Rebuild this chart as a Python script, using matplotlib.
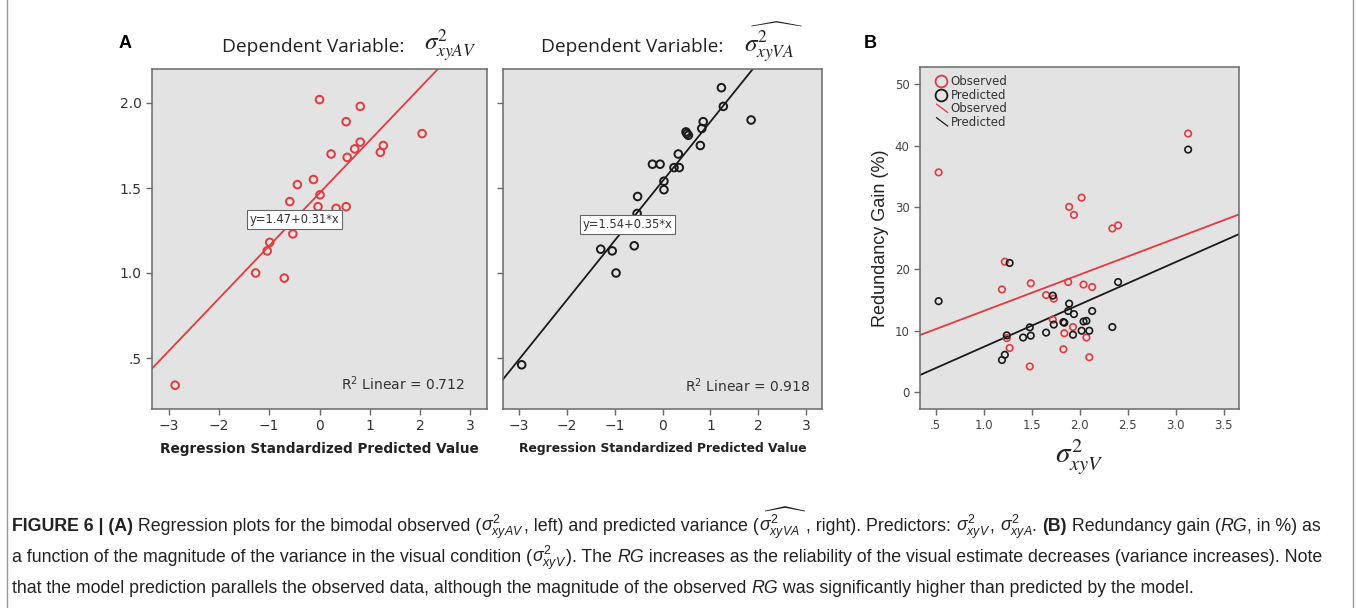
import matplotlib
matplotlib.use("Agg")
import matplotlib.pyplot as plt
from matplotlib.lines import Line2D
from matplotlib.legend_handler import HandlerBase

# ---------------- data ----------------
# Panel A, left: observed bimodal variance vs standardized predicted value
a_obs_x = [-2.87, 0.00, 0.81, 0.53, 2.04, 0.81, 1.27, 0.70, 1.21, 0.23, 0.55, -0.12,
           -0.44, 0.01, -0.59, -0.03, 0.33, 0.53, -0.53, -0.99, -1.04, -1.27, -0.70]
a_obs_y = [0.34, 2.02, 1.98, 1.89, 1.82, 1.77, 1.75, 1.73, 1.71, 1.70, 1.68, 1.55,
           1.52, 1.46, 1.42, 1.39, 1.38, 1.39, 1.23, 1.18, 1.13, 1.00, 0.97]
a_obs_fit = (1.47, 0.31)
a_obs_r2 = 0.712

# Panel A, right: predicted variance
a_pred_x = [-2.94, 1.23, 1.27, 1.85, 0.85, 0.82, 0.49, 0.51, 0.54, 0.79, 0.33, -0.21,
            -0.05, 0.24, 0.35, 0.03, 0.03, -0.52, -0.53, -0.59, -1.29, -1.05, -0.97]
a_pred_y = [0.46, 2.09, 1.98, 1.90, 1.89, 1.85, 1.83, 1.82, 1.81, 1.75, 1.70, 1.64,
            1.64, 1.62, 1.62, 1.54, 1.49, 1.45, 1.35, 1.16, 1.14, 1.13, 1.00]
a_pred_fit = (1.54, 0.35)
a_pred_r2 = 0.918

a_xticks = [-3, -2, -1, 0, 1, 2, 3]
a_yticks = [0.5, 1.0, 1.5, 2.0]
a_ytick_labels = [".5", "1.0", "1.5", "2.0"]

# Panel B: redundancy gain vs visual variance
b_obs_x = [0.53, 3.13, 2.02, 1.89, 1.94, 2.34, 2.40, 1.22, 1.19, 1.49, 1.88, 2.04,
           2.13, 1.65, 1.73, 1.72, 1.84, 1.93, 1.24, 1.27, 1.83, 2.07, 1.48, 2.10]
b_obs_y = [35.7, 42.0, 31.6, 30.1, 28.8, 26.6, 27.1, 21.2, 16.7, 17.7, 17.9, 17.5,
           17.1, 15.8, 15.2, 11.8, 9.6, 10.6, 8.8, 7.2, 7.0, 8.9, 4.2, 5.7]
b_pred_x = [0.53, 3.13, 1.27, 2.40, 1.72, 1.89, 1.88, 2.13, 1.94, 2.04, 2.07, 1.83,
            1.84, 1.73, 1.48, 2.34, 2.02, 2.10, 1.65, 1.24, 1.49, 1.41, 1.93, 1.22, 1.19]
b_pred_y = [14.8, 39.4, 21.0, 17.9, 15.7, 14.4, 13.2, 13.2, 12.7, 11.5, 11.6, 11.4,
            11.3, 11.0, 10.55, 10.6, 10.0, 10.0, 9.7, 9.25, 9.2, 8.9, 9.35, 6.1, 5.25]
b_obs_fit = (7.32, 5.89)
b_pred_fit = (0.50, 6.88)
b_xticks = [0.5, 1.0, 1.5, 2.0, 2.5, 3.0, 3.5]
b_xtick_labels = [".5", "1.0", "1.5", "2.0", "2.5", "3.0", "3.5"]
b_yticks = [0, 10, 20, 30, 40, 50]

# ---------------- style ----------------
W, H = 1357, 608
RED = "#e23a3f"
BLK = "#1a1a1a"
BG = "#e3e3e3"
FRAME = "#6a6a6a"

plt.rcParams["font.family"] = ["DejaVu Sans"]
plt.rcParams["mathtext.rm"] = "Liberation Sans"
plt.rcParams["mathtext.it"] = "Liberation Sans:italic"
plt.rcParams["mathtext.bf"] = "Liberation Sans:bold"

fig = plt.figure(figsize=(W / 100, H / 100), dpi=100)
fig.patch.set_facecolor("white")


def px_axes(x0, y0, x1, y1):
    return fig.add_axes([x0 / W, 1 - y1 / H, (x1 - x0) / W, (y1 - y0) / H])


def style_ax(ax):
    ax.set_facecolor(BG)
    for s in ax.spines.values():
        s.set_color(FRAME)
        s.set_linewidth(1.1)
    ax.tick_params(direction="out", length=4, width=1.0, color=FRAME,
                   top=False, right=False)


ax1 = px_axes(152, 69, 487, 409)
ax2 = px_axes(503, 69, 822, 409)
ax3 = px_axes(920, 67, 1239, 409)

for ax in (ax1, ax2, ax3):
    style_ax(ax)

# ---- Panel A ----
for ax, xs, ys, col, fit, r2, eqpos in (
        (ax1, a_obs_x, a_obs_y, RED, a_obs_fit, a_obs_r2, (-0.50, 1.316)),
        (ax2, a_pred_x, a_pred_y, BLK, a_pred_fit, a_pred_r2, (-0.73, 1.285))):
    ax.set_xlim(-3.33, 3.33)
    ax.set_ylim(0.2, 2.2)
    ax.axline((0, fit[0]), slope=fit[1], color=col, lw=1.3, zorder=2)
    ax.scatter(xs, ys, s=30, facecolors="none", edgecolors=col, linewidths=1.4, zorder=3)
    ax.set_xticks(a_xticks)
    ax.set_xticklabels(["\u2212%d" % abs(t) if t < 0 else "%d" % t for t in a_xticks])
    ax.set_yticks(a_yticks)
    ax.text(eqpos[0], eqpos[1], "y=%.2f+%.2f*x" % fit, ha="center", va="center",
            fontsize=8.3, color="#333333", zorder=4,
            bbox=dict(boxstyle="square,pad=0.25", fc="white", ec="#666666", lw=0.8))
    ax.tick_params(axis="both", labelsize=10, labelcolor="#333333")

ax1.set_yticklabels(a_ytick_labels)
ax2.set_yticklabels([])
ax1.text(0.934, 0.075, "R$^2$ Linear = %.3f" % a_obs_r2, transform=ax1.transAxes,
         ha="right", va="center", fontsize=10, color="#333333",
         math_fontfamily="dejavusans")
ax2.text(0.962, 0.068, "R$^2$ Linear = %.3f" % a_pred_r2, transform=ax2.transAxes,
         ha="right", va="center", fontsize=10, color="#333333",
         math_fontfamily="dejavusans")
ax1.set_xlabel("Regression Standardized Predicted Value", fontsize=9.8, fontweight="bold",
               color="#222222", labelpad=6)
ax2.set_xlabel("Regression Standardized Predicted Value", fontsize=8.9, fontweight="bold",
               color="#222222", labelpad=6)

# titles
fig.text(222 / W, 1 - 47 / H, "Dependent Variable:", fontsize=13.8, family="Open Sans",
         color="#222222", ha="left", va="center")
fig.text(424 / W, 1 - 45 / H, r"$\sigma^2_{xyAV}$", fontsize=18, math_fontfamily="stix",
         color="#222222", ha="left", va="center")
fig.text(541 / W, 1 - 47 / H, "Dependent Variable:", fontsize=13.8, family="Open Sans",
         color="#222222", ha="left", va="center")
fig.text(744 / W, 1 - 43 / H, r"$\widehat{\sigma^2_{xyVA}}$", fontsize=18,
         math_fontfamily="stix", color="#222222", ha="left", va="center")

# panel letters
fig.text(125 / W, 1 - 44 / H, "A", fontsize=13, fontweight="bold", ha="center", va="center",
         family="Liberation Sans")
fig.text(870 / W, 1 - 44 / H, "B", fontsize=13, fontweight="bold", ha="center", va="center",
         family="Liberation Sans")

# ---- Panel B ----
ax3.set_xlim(0.336, 3.66)
ax3.set_ylim(-2.7, 52.8)
ax3.axline((0, b_obs_fit[0]), slope=b_obs_fit[1], color=RED, lw=1.3, zorder=2)
ax3.axline((0, b_pred_fit[0]), slope=b_pred_fit[1], color=BLK, lw=1.3, zorder=2)
ax3.scatter(b_obs_x, b_obs_y, s=22, facecolors="none", edgecolors=RED, linewidths=1.2, zorder=3)
ax3.scatter(b_pred_x, b_pred_y, s=22, facecolors="none", edgecolors=BLK, linewidths=1.2, zorder=3)
ax3.set_xticks(b_xticks)
ax3.set_xticklabels(b_xtick_labels)
ax3.set_yticks(b_yticks)
ax3.tick_params(axis="both", labelsize=8.5, labelcolor="#444444")
ax3.set_ylabel("Redundancy Gain (%)", fontsize=13, family="Liberation Sans",
               color="#222222", labelpad=4)
ax3.set_xlabel(r"$\sigma^2_{xyV}$", fontsize=21, math_fontfamily="stix", color="#222222",
               labelpad=4)


class HandlerDiag(HandlerBase):
    def create_artists(self, legend, orig_handle, xdescent, ydescent, width, height,
                       fontsize, trans):
        ln = Line2D([-xdescent + 0.15 * width, -xdescent + width],
                    [-ydescent + height, -ydescent],
                    color=orig_handle.get_color(), lw=orig_handle.get_linewidth(),
                    transform=trans)
        return [ln]


h_obs_pt = Line2D([], [], ls="none", marker="o", ms=8.5, mfc="none", mec=RED, mew=1.3)
h_pred_pt = Line2D([], [], ls="none", marker="o", ms=8.5, mfc="none", mec=BLK, mew=1.3)
h_obs_ln = Line2D([], [], color=RED, lw=0.9)
h_pred_ln = Line2D([], [], color=BLK, lw=0.9)
leg = ax3.legend([h_obs_pt, h_pred_pt, h_obs_ln, h_pred_ln],
                 ["Observed", "Predicted", "Observed", "Predicted"],
                 loc="upper left", bbox_to_anchor=(0.02, 1.0), frameon=False,
                 fontsize=8.5, handlelength=1.1, handletextpad=0.25, labelspacing=0.05,
                 borderaxespad=0.3,
                 handler_map={h_obs_ln: HandlerDiag(), h_pred_ln: HandlerDiag()})
for t in leg.get_texts():
    t.set_color("#333333")

# ---------------- caption ----------------
renderer = fig.canvas.get_renderer()
CAP_FONT = "Liberation Sans"
REG = dict(family=CAP_FONT, color="#222222")
BOLD = dict(family=CAP_FONT, fontweight="bold", color="#222222")
ITAL = dict(family=CAP_FONT, fontstyle="italic", color="#222222")
MATH = dict(family=CAP_FONT, math_fontfamily="custom", color="#222222")

cap_line1 = [("FIGURE 6 | (A)", BOLD), (" Regression plots for the bimodal observed (", REG),
             (r"$\sigma^2_{xyAV}$", MATH), (", left) and predicted variance (", REG),
             (r"$\widehat{\sigma^2_{xyVA}}$", MATH), (", right). Predictors: ", REG),
             (r"$\sigma^2_{xyV}$", MATH), (", ", REG), (r"$\sigma^2_{xyA}$", MATH),
             (". ", REG), ("(B)", BOLD), (" Redundancy gain (", REG), ("RG", ITAL),
             (", in %) as", REG)]
cap_line2 = [("a function of the magnitude of the variance in the visual condition (", REG),
             (r"$\sigma^2_{xyV}$", MATH), ("). The ", REG), ("RG", ITAL),
             (" increases as the reliability of the visual estimate decreases "
              "(variance increases). Note", REG)]
cap_line3 = [("that the model prediction parallels the observed data, although the "
              "magnitude of the observed ", REG), ("RG", ITAL),
             (" was significantly higher than predicted by the model.", REG)]


def run_width(txt, kw, size):
    if txt.startswith("$"):
        t = fig.text(0, 0, txt, fontsize=size, **kw)
        w = t.get_window_extent(renderer=renderer).width
        t.remove()
        return w
    t1 = fig.text(0, 0, "|" + txt + "|", fontsize=size, **kw)
    t2 = fig.text(0, 0, "||", fontsize=size, **kw)
    w = (t1.get_window_extent(renderer=renderer).width
         - t2.get_window_extent(renderer=renderer).width)
    t1.remove()
    t2.remove()
    return w


def line_width(runs, size):
    return sum(run_width(t, k, size) for t, k in runs)


base = 10.0
cap_size = base * (1330 - 12) / line_width(cap_line1, base)


def draw_runs(x_px, y_px, runs, size):
    x = x_px
    for txt, kw in runs:
        fig.text(x / W, 1 - y_px / H, txt, fontsize=size, ha="left", va="baseline", **kw)
        x += run_width(txt, kw, size)


draw_runs(12, 531, cap_line1, cap_size)
draw_runs(12, 562, cap_line2, cap_size)
draw_runs(12, 593, cap_line3, cap_size)

# figure frame lines
for xp in (7, 1353):
    fig.add_artist(Line2D([xp / W, xp / W], [0, 1], transform=fig.transFigure,
                          color="#9a9a9a", lw=1.0))

fig.savefig("out.png", dpi=100)
